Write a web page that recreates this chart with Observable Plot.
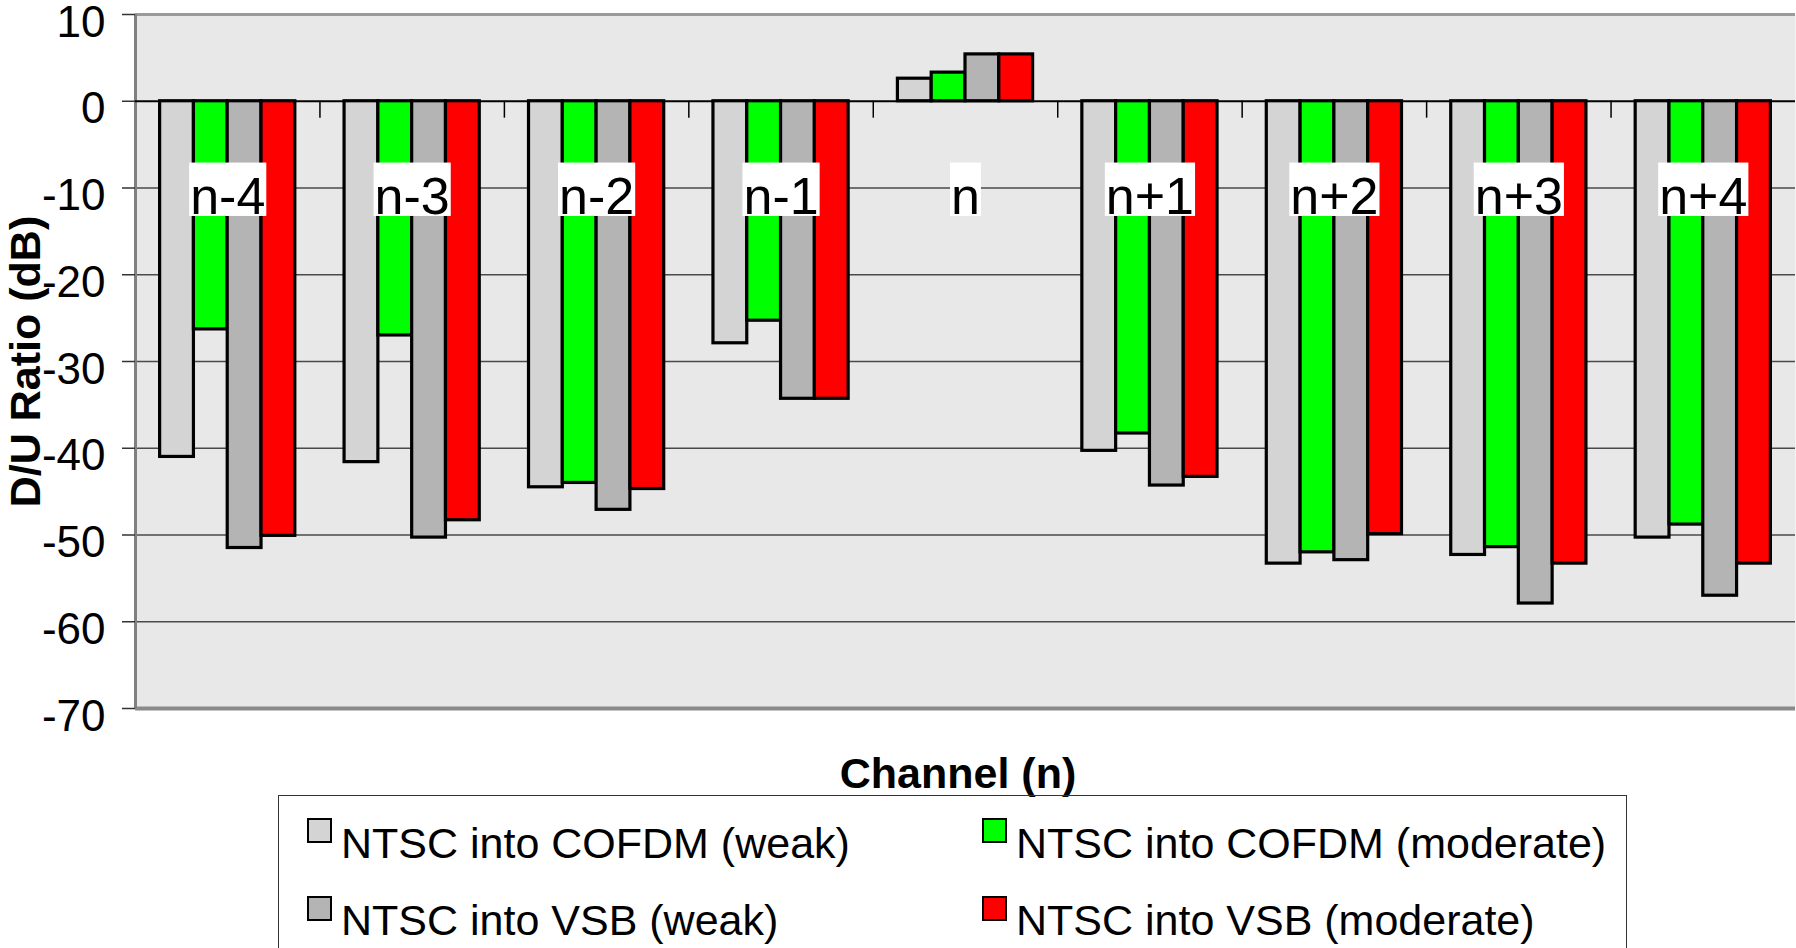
<!DOCTYPE html>
<html>
<head>
<meta charset="utf-8">
<script src="https://cdn.jsdelivr.net/npm/d3@7"></script>
<script src="https://cdn.jsdelivr.net/npm/@observablehq/plot@0.6"></script>
<style>
  html, body { margin: 0; padding: 0; background: white; }
  body { width: 1796px; height: 948px; overflow: hidden; position: relative;
         font-family: "Liberation Sans", Arial, sans-serif; color: black; }
  #chart { position: absolute; left: 0; top: 0; }
  #xtitle { position: absolute; left: 758px; top: 748px; width: 400px; text-align: center;
            font-weight: bold; font-size: 43px; line-height: 50px; }
  #legend { position: absolute; left: 278px; top: 795px; width: 1349px; height: 220px;
            border: 1.5px solid #333; box-sizing: border-box; }
  .sw { position: absolute; width: 25px; height: 25px; border: 2.5px solid black; box-sizing: border-box; }
  .lt { position: absolute; font-size: 43px; line-height: 49px; white-space: nowrap; }
</style>
</head>
<body>
<div id="chart"></div>
<div id="xtitle">Channel (n)</div>
<div id="legend"></div>
<script>
// ---- data ----
const channels = ["n-4", "n-3", "n-2", "n-1", "n", "n+1", "n+2", "n+3", "n+4"];
const seriesNames = [
  "NTSC into COFDM (weak)",
  "NTSC into COFDM (moderate)",
  "NTSC into VSB (weak)",
  "NTSC into VSB (moderate)"
];
const cofdmWeak     = [-41.0, -41.6, -44.5, -27.9, 2.6, -40.3, -53.3, -52.3, -50.3];
const cofdmModerate = [-26.3, -27.0, -44.0, -25.3, 3.3, -38.3, -52.0, -51.4, -48.8];
const vsbWeak       = [-51.5, -50.3, -47.1, -34.3, 5.4, -44.3, -52.9, -57.9, -57.0];
const vsbModerate   = [-50.1, -48.3, -44.7, -34.3, 5.4, -43.3, -49.9, -53.3, -53.3];
const yTicks = [10, 0, -10, -20, -30, -40, -50, -60, -70];
const yTitle = "D/U Ratio (dB)";

// ---- styles ----
const seriesColors = ["#d4d4d4", "#00ff00", "#b4b4b4", "#ff0000"];
const FONT = "'Liberation Sans', Arial, sans-serif";

const seriesValues = [cofdmWeak, cofdmModerate, vsbWeak, vsbModerate];
const rows = channels.flatMap((ch, i) =>
  seriesValues.map((vals, s) => ({channel: ch, index: i, s, series: seriesNames[s], value: vals[i]})));

// group layout (fraction of each category slot)
const groupPad = 0.1335;
const barW = (1 - 2 * groupPad) / seriesNames.length;

const yMin = d3.min(yTicks), yMax = d3.max(yTicks);
const gridValues = yTicks.filter(v => v > yMin && v < yMax && v !== 0);

const plot = Plot.plot({
  width: 1796,
  height: 722,
  marginLeft: 135,
  marginRight: 1,
  marginTop: 14,
  marginBottom: 14,
  style: {fontFamily: FONT, fontSize: "44px", background: "white", color: "black", overflow: "visible"},
  x: {domain: [0, channels.length], axis: null},
  y: {domain: [yMin, yMax]},
  color: {domain: seriesNames, range: seriesColors},
  marks: [
    Plot.frame({fill: "#e8e8e8", stroke: "none"}),
    Plot.ruleY(gridValues, {stroke: "#4a4a4a", strokeWidth: 1.5}),
    Plot.ruleY([yMax], {stroke: "#9a9a9a", strokeWidth: 3}),
    Plot.ruleY([yMin], {stroke: "#8a8a8a", strokeWidth: 4}),
    Plot.ruleX([0], {stroke: "#808080", strokeWidth: 3}),
    Plot.ruleY([0], {stroke: "black", strokeWidth: 2}),
    Plot.ruleX(d3.range(1, channels.length), {y1: 0, y2: -1.95, stroke: "black", strokeWidth: 1.5}),
    Plot.rect(rows, {
      x1: d => d.index + groupPad + d.s * barW,
      x2: d => d.index + groupPad + (d.s + 1) * barW,
      y1: 0,
      y2: "value",
      fill: "series",
      stroke: "black",
      strokeWidth: 3.2
    }),
    Plot.text(channels, {
      x: (d, i) => i + 0.5,
      y: -11.1,
      text: d => d,
      fontSize: 52,
      fill: "black"
    }),
    Plot.axisY(yTicks, {tickSize: 13, fill: "none", stroke: "#333", strokeWidth: 1.5, label: null}),
    Plot.axisY(yTicks, {tickSize: 0, tickPadding: 30, dy: 8, fontSize: 44, stroke: "none", fill: "black",
                        label: null, tickFormat: d => String(d)}),
    Plot.text([yTitle], {
      frameAnchor: "left",
      textAnchor: "middle",
      rotate: -90,
      dx: -109,
      text: d => d,
      fontSize: 43,
      fontWeight: "bold",
      fill: "black"
    })
  ]
});

document.getElementById("chart").append(plot);

// white boxes behind category labels (like the original)
const svgNS = "http://www.w3.org/2000/svg";
const fs = 52;
const labelSet = new Set(channels);
plot.querySelectorAll("text").forEach(t => {
  if (!labelSet.has(t.textContent)) return;
  const bb = t.getBBox();
  const r = document.createElementNS(svgNS, "rect");
  r.setAttribute("x", bb.x - 1);
  r.setAttribute("y", bb.y - 0.089 * fs);
  r.setAttribute("width", bb.width + 2);
  r.setAttribute("height", 1.027 * fs);
  r.setAttribute("fill", "white");
  r.setAttribute("stroke", "none");
  const tr = t.getAttribute("transform");
  if (tr) r.setAttribute("transform", tr);
  t.parentNode.insertBefore(r, t);
});

// legend (2 x 2), built from the series names and colour scale
const legend = document.getElementById("legend");
const colLeft = [28, 703];
const rowTop = [21.5, 100];
const textShift = [6, 4];
seriesNames.forEach((name, i) => {
  const col = i % 2, row = Math.floor(i / 2);
  const sw = document.createElement("div");
  sw.className = "sw";
  sw.style.left = colLeft[col] + "px";
  sw.style.top = rowTop[row] + "px";
  sw.style.background = seriesColors[i];
  legend.append(sw);
  const tx = document.createElement("div");
  tx.className = "lt";
  tx.style.left = (colLeft[col] + 34) + "px";
  tx.style.top = (rowTop[row] - 4.4 + textShift[row]) + "px";
  tx.textContent = name;
  legend.append(tx);
});
</script>
</body>
</html>
